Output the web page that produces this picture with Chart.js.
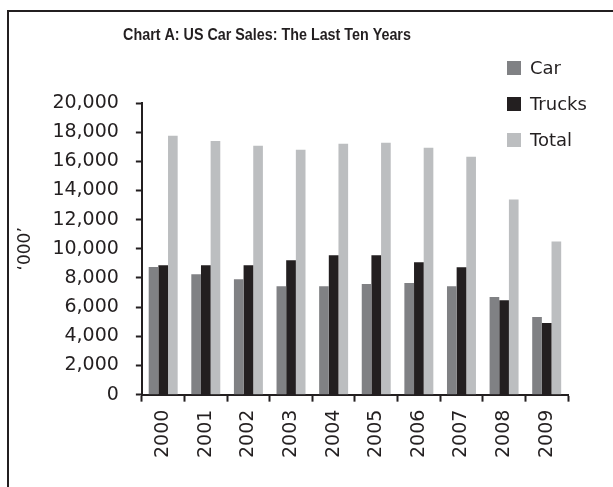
<!DOCTYPE html>
<html>
<head>
<meta charset="utf-8">
<script src="https://cdn.jsdelivr.net/npm/chart.js@4"></script>
<style>
  html, body { margin: 0; padding: 0; background: #fff; }
  #wrap { position: relative; width: 613px; height: 487px; overflow: hidden; }
  #frame {
    position: absolute; left: 7px; top: 10px; width: 640px; height: 500px;
    border-left: 2.5px solid #231f20; border-top: 2.5px solid #231f20;
  }
  canvas { position: absolute; left: 0; top: 0; }
</style>
</head>
<body>
<div id="wrap">
  <div id="frame"></div>
  <canvas id="salesChart" width="613" height="487"></canvas>
</div>
<script>
const years = ['2000', '2001', '2002', '2003', '2004', '2005', '2006', '2007', '2008', '2009'];
const carSales = [8750, 8260, 7920, 7440, 7440, 7580, 7650, 7440, 6690, 5320];
const truckSales = [8870, 8870, 8870, 9220, 9560, 9560, 9080, 8740, 6480, 4910];
const totalSales = [17750, 17400, 17060, 16800, 17200, 17270, 16930, 16310, 13380, 10510];
const yTicks = [0, 2000, 4000, 6000, 8000, 10000, 12000, 14000, 16000, 18000, 20000];

const ink = '#231f20';
const labelFont = { family: 'DejaVu Sans', size: 19 };

// title and legend are painted by hand so they can sit over the plot
const decorations = {
  id: 'decorations',
  afterDraw(chart) {
    const ctx = chart.ctx;
    ctx.save();
    ctx.fillStyle = ink;
    ctx.textBaseline = 'middle';
    ctx.textAlign = 'center';
    ctx.font = 'bold 16px "Liberation Sans", Arial, sans-serif';
    ctx.translate(267, 36);
    ctx.scale(0.895, 1);
    ctx.fillText('Chart A: US Car Sales: The Last Ten Years', 0, 0);
    ctx.restore();

    ctx.save();
    ctx.textBaseline = 'middle';
    ctx.textAlign = 'left';
    ctx.font = '18px "DejaVu Sans", sans-serif';
    chart.data.datasets.forEach((ds, i) => {
      const y = 68 + i * 36;
      ctx.fillStyle = ds.backgroundColor;
      ctx.fillRect(507, y - 7, 14, 14);
      ctx.fillStyle = ink;
      ctx.fillText(ds.label, 530, y + 1);
    });
    ctx.restore();
  }
};

new Chart(document.getElementById('salesChart'), {
  type: 'bar',
  data: {
    labels: years,
    datasets: [
      { label: 'Car', data: carSales, backgroundColor: '#808184' },
      { label: 'Trucks', data: truckSales, backgroundColor: '#231f20' },
      { label: 'Total', data: totalSales, backgroundColor: '#bcbec0' }
    ]
  },
  options: {
    responsive: false,
    animation: false,
    layout: { padding: { top: 103, right: 45, left: 5, bottom: 21 } },
    datasets: { bar: { barPercentage: 1, categoryPercentage: 0.68 } },
    plugins: {
      legend: { display: false },
      title: { display: false },
      tooltip: { enabled: false }
    },
    scales: {
      x: {
        grid: { drawOnChartArea: false, offset: true, tickLength: 7, tickWidth: 2, tickColor: ink },
        border: { color: ink, width: 2 },
        ticks: { minRotation: 90, maxRotation: 90, color: ink, font: labelFont, padding: 8 }
      },
      y: {
        min: 0,
        max: 20000,
        afterBuildTicks: (axis) => { axis.ticks = yTicks.map(v => ({ value: v })); },
        grid: { drawOnChartArea: false, tickLength: 6, tickWidth: 2, tickColor: ink },
        border: { color: ink, width: 2 },
        ticks: {
          color: ink,
          font: labelFont,
          padding: 17,
          callback: (v) => v.toLocaleString('en-US')
        },
        title: { display: true, text: '\u2018000\u2019', color: ink, font: { family: 'DejaVu Sans', size: 17 }, padding: { top: 10, bottom: 0 } }
      }
    }
  },
  plugins: [decorations]
});
</script>
</body>
</html>
